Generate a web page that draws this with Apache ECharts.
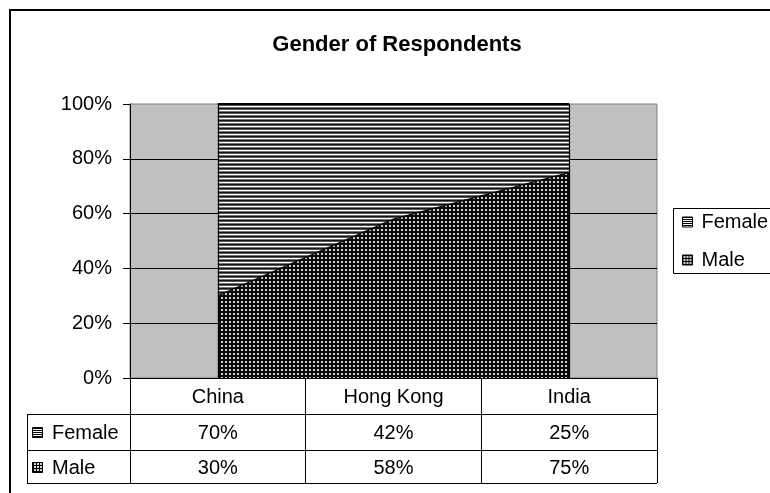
<!DOCTYPE html>
<html>
<head>
<meta charset="utf-8">
<script src="https://cdn.jsdelivr.net/npm/echarts@6/dist/echarts.min.js"></script>
<style>
  html, body { margin: 0; padding: 0; background: #fff; }
  #chart { width: 770px; height: 493px; }
</style>
</head>
<body>
<div id="chart"></div>
<script>
// Share of respondents by gender (percent of each country's sample)
const categories = ['China', 'Hong Kong', 'India'];
const femaleShare = [70, 42, 25];
const maleShare = [30, 58, 75];
const seriesNames = ['Female', 'Male'];
const yMax = 100;
const yStep = 20;

const FONT = '"Liberation Sans", Arial, sans-serif';

// Fill textures: horizontal hatching for Female, dotted grid for Male
function stripeTile() {
  const c = document.createElement('canvas');
  c.width = 4; c.height = 4;
  const g = c.getContext('2d');
  g.fillStyle = '#ffffff'; g.fillRect(0, 0, 4, 4);
  g.fillStyle = '#151515'; g.fillRect(0, 0, 4, 1);
  g.fillStyle = '#555555'; g.fillRect(0, 1, 4, 1);
  g.fillStyle = '#727272'; g.fillRect(0, 3, 4, 1);
  return c;
}
function dotTile() {
  const c = document.createElement('canvas');
  c.width = 4; c.height = 4;
  const g = c.getContext('2d');
  g.fillStyle = '#0c0c0c'; g.fillRect(0, 0, 4, 4);
  g.fillStyle = '#d0d0d0'; g.fillRect(1, 1, 2, 2);
  return c;
}
// Key icons for legend and table: small boxed glyphs
function keyStripeTile() {
  const c = document.createElement('canvas');
  c.width = 2; c.height = 2;
  const g = c.getContext('2d');
  g.fillStyle = '#ffffff'; g.fillRect(0, 0, 2, 2);
  g.fillStyle = '#000000'; g.fillRect(0, 0, 2, 1);
  return c;
}
function keyDotTile() {
  const c = document.createElement('canvas');
  c.width = 3; c.height = 3;
  const g = c.getContext('2d');
  g.fillStyle = '#000000'; g.fillRect(0, 0, 3, 3);
  g.fillStyle = '#cfcfcf'; g.fillRect(1, 1, 2, 2);
  return c;
}
const femaleFill = { image: stripeTile(), repeat: 'repeat' };
const maleFill = { image: dotTile(), repeat: 'repeat' };
const femaleKey = { image: keyStripeTile(), repeat: 'repeat' };
const maleKey = { image: keyDotTile(), repeat: 'repeat' };

const GRID = { left: 130, right: 113, top: 104, bottom: 115 };

const chart = echarts.init(document.getElementById('chart'), null, { renderer: 'canvas' });

const option = {
  animation: false,
  backgroundColor: '#ffffff',
  grid: {
    left: GRID.left, right: GRID.right, top: GRID.top, bottom: GRID.bottom,
    show: true, backgroundColor: '#c0c0c0', borderColor: '#808080', borderWidth: 1
  },
  legend: {
    orient: 'vertical',
    left: 673, top: 208,
    padding: [3, 0, 3, 9],
    itemGap: 16,
    itemWidth: 10, itemHeight: 10,
    borderWidth: 0,
    textStyle: { fontFamily: FONT, fontSize: 20, color: '#000', lineHeight: 22, padding: [0, 0, 0, 4] },
    data: [
      { name: seriesNames[0], icon: 'rect', itemStyle: { color: femaleKey, borderColor: '#000', borderWidth: 1 } },
      { name: seriesNames[1], icon: 'rect', itemStyle: { color: maleKey, borderColor: '#000', borderWidth: 1 } }
    ]
  },
  xAxis: {
    type: 'category',
    data: categories,
    boundaryGap: true,
    axisLine: { show: true, lineStyle: { color: '#000', width: 1 } },
    axisTick: { show: true, length: 105, lineStyle: { color: '#000', width: 1 } },
    axisLabel: { fontFamily: FONT, fontSize: 20, color: '#000', margin: 9 },
    splitLine: { show: false }
  },
  yAxis: {
    type: 'value',
    min: 0, max: yMax, interval: yStep,
    axisLine: { show: true, lineStyle: { color: '#000', width: 1 } },
    axisTick: { show: true, length: 7, lineStyle: { color: '#000', width: 1 } },
    axisLabel: { fontFamily: FONT, fontSize: 20, color: '#000', margin: 18, formatter: '{value}%' },
    splitLine: { show: true, showMaxLine: false, lineStyle: { color: '#000', width: 1 } }
  },
  series: [
    {
      name: seriesNames[1],
      type: 'line',
      stack: 'share',
      data: maleShare,
      symbol: 'none',
      color: '#000',
      lineStyle: { color: '#000', width: 1.2 },
      areaStyle: { color: maleFill, opacity: 1 },
      z: 3
    },
    {
      name: seriesNames[0],
      type: 'line',
      stack: 'share',
      data: femaleShare,
      symbol: 'none',
      color: '#000',
      lineStyle: { color: '#000', width: 2 },
      areaStyle: { color: femaleFill, opacity: 1 },
      z: 2,
      markLine: {
        silent: true,
        symbol: 'none',
        label: { show: false },
        lineStyle: { color: '#000', type: 'solid', width: 1.2 },
        data: [{ xAxis: categories[0] }, { xAxis: categories[categories.length - 1] }]
      }
    }
  ]
};

chart.setOption(option);

// Data table below the plot, aligned with the category columns
const colX = categories.map(c => chart.convertToPixel({ xAxisIndex: 0 }, c));
const plotRight = 770 - GRID.right;
const tableLeft = 27;
const rowLines = [414, 450, 483];
const rows = [
  { name: seriesNames[0], values: femaleShare, fill: femaleKey, y: 432 },
  { name: seriesNames[1], values: maleShare, fill: maleKey, y: 467 }
];

const graphics = [
  {
    type: 'text', x: 397, y: 45,
    style: { text: 'Gender of Respondents', font: 'bold 22px ' + FONT, fill: '#000', align: 'center', verticalAlign: 'middle' }
  },
  {
    // outer chart frame (runs past the right and bottom of the view)
    type: 'rect', shape: { x: 10, y: 10, width: 820, height: 520 },
    style: { fill: 'none', stroke: '#000', lineWidth: 2 }, silent: true, z: 100
  },
  {
    // legend frame
    type: 'rect', shape: { x: 673.5, y: 208.5, width: 140, height: 65 },
    style: { fill: 'none', stroke: '#000', lineWidth: 1 }, silent: true, z: 100
  },
  {
    type: 'line', shape: { x1: tableLeft + 0.5, y1: rowLines[0], x2: tableLeft + 0.5, y2: rowLines[2] },
    style: { stroke: '#000', lineWidth: 1 }
  }
];
rowLines.forEach(y => {
  graphics.push({
    type: 'line', shape: { x1: tableLeft, y1: y + 0.5, x2: plotRight, y2: y + 0.5 },
    style: { stroke: '#000', lineWidth: 1 }
  });
});
rows.forEach(r => {
  graphics.push({
    type: 'rect', shape: { x: 32.5, y: r.y - 4.5, width: 10, height: 10 },
    style: { fill: r.fill, stroke: '#000', lineWidth: 1 }
  });
  graphics.push({
    type: 'text', x: 52, y: r.y + 1,
    style: { text: r.name, font: '20px ' + FONT, fill: '#000', align: 'left', verticalAlign: 'middle' }
  });
  r.values.forEach((v, i) => {
    graphics.push({
      type: 'text', x: colX[i], y: r.y + 1,
      style: { text: v + '%', font: '20px ' + FONT, fill: '#000', align: 'center', verticalAlign: 'middle' }
    });
  });
});

chart.setOption({ graphic: graphics });
</script>
</body>
</html>
